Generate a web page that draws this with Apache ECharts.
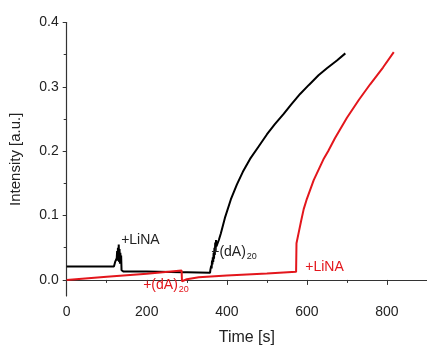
<!DOCTYPE html>
<html>
<head>
<meta charset="utf-8">
<script src="https://cdn.jsdelivr.net/npm/echarts@6/dist/echarts.min.js"></script>
<style>
  html, body { margin: 0; padding: 0; background: #fff; }
  #chart { width: 427px; height: 347px; }
</style>
</head>
<body>
<div id="chart"></div>
<script>
// Black trace: control (time [s], intensity)
const blackTime = [0, 118, 120, 121, 122, 123, 124, 125, 126, 127, 128, 129, 130, 131, 132, 133, 134, 135, 136, 137, 138, 142, 150, 200, 288, 300, 358,
  359, 360, 361, 362, 363, 364, 365, 366, 367, 368, 369, 370, 371, 372, 373, 374, 376, 380,
  385, 396, 410, 425, 440, 458, 479, 500, 520, 542, 560, 583, 605, 629, 650, 675, 696];
const blackIntensity = [0.021, 0.021, 0.022, 0.028, 0.025, 0.03, 0.026, 0.034, 0.045, 0.03, 0.05, 0.033, 0.055, 0.028, 0.048, 0.025, 0.042, 0.03, 0.038, 0.015, 0.014, 0.013, 0.013, 0.013, 0.012, 0.012, 0.011,
  0.016, 0.013, 0.022, 0.018, 0.03, 0.024, 0.035, 0.028, 0.042, 0.033, 0.05, 0.04, 0.058, 0.045, 0.062, 0.052, 0.055, 0.062,
  0.072, 0.098, 0.125, 0.148, 0.168, 0.188, 0.207, 0.226, 0.242, 0.258, 0.272, 0.289, 0.303, 0.318, 0.329, 0.341, 0.352];

// Red trace
const redTime = [0, 100, 200, 287, 288, 300, 330, 400, 500, 573, 574, 580, 585, 592, 600, 617, 641, 653, 670, 700, 730, 758, 790, 817];
const redIntensity = [0.0, 0.005, 0.0095, 0.0145, -0.002, 0.001, 0.004, 0.007, 0.010, 0.0125, 0.057, 0.075, 0.09, 0.11, 0.126, 0.155, 0.187, 0.2, 0.22, 0.252, 0.28, 0.304, 0.33, 0.354];

const xMajor = [0, 200, 400, 600, 800];
const xMinor = [100, 300, 500, 700];
const yMajor = [0, 0.1, 0.2, 0.3, 0.4];
const yMinor = [0.05, 0.15, 0.25, 0.35];

const RED = '#e3161c';
const FONT = 'Liberation Sans, Arial, sans-serif';
const INK = '#222';

const chart = echarts.init(document.getElementById('chart'));

const subRich = {
  a: { fontSize: 14, fontFamily: FONT },
  b: { fontSize: 9, fontFamily: FONT, padding: [9, 0, 0, 1] }
};

const axisLine = { show: true, lineStyle: { color: '#333', width: 1.2 } };

const option = {
  animation: false,
  grid: { left: 66.7, right: 0, top: 22.5, bottom: 51, outerBoundsMode: 'none', containLabel: false },
  xAxis: [
    {
      type: 'value', min: 0, max: 900,
      name: 'Time [s]', nameLocation: 'middle', nameGap: 34,
      nameTextStyle: { fontSize: 16, color: INK, fontFamily: FONT },
      axisLine: axisLine,
      splitLine: { show: false },
      axisTick: { show: true, length: 5, customValues: xMajor, lineStyle: { color: '#333' } },
      axisLabel: { customValues: xMajor, fontSize: 14, color: INK, fontFamily: FONT, margin: 9 }
    },
    {
      type: 'value', min: 0, max: 900, position: 'bottom',
      axisLine: { show: false }, splitLine: { show: false }, axisLabel: { show: false },
      axisTick: { show: true, length: 3, customValues: xMinor, lineStyle: { color: '#333' } }
    }
  ],
  yAxis: [
    {
      type: 'value', min: -0.025, max: 0.4,
      name: 'Intensity [a.u.]', nameLocation: 'middle', nameGap: 43,
      nameTextStyle: { fontSize: 15, color: INK, fontFamily: FONT },
      axisLine: axisLine,
      splitLine: { show: false },
      axisTick: { show: true, length: 4, customValues: yMajor, lineStyle: { color: '#333' } },
      axisLabel: {
        customValues: yMajor, fontSize: 14, color: INK, fontFamily: FONT, margin: 8,
        formatter: v => v.toFixed(1)
      }
    },
    {
      type: 'value', min: -0.025, max: 0.4, position: 'left',
      axisLine: { show: false }, splitLine: { show: false }, axisLabel: { show: false },
      axisTick: { show: true, length: 3, customValues: yMinor, lineStyle: { color: '#333' } }
    }
  ],
  series: [
    {
      name: 'control', type: 'line', showSymbol: false,
      data: blackTime.map((t, i) => [t, blackIntensity[i]]),
      lineStyle: { color: '#000', width: 2 },
      itemStyle: { color: '#000' },
      markPoint: {
        symbol: 'circle', symbolSize: 0, silent: true,
        label: { position: 'right', distance: 0, color: INK, fontSize: 14, fontFamily: FONT },
        data: [
          { coord: [136, 0.062], label: { formatter: '+LiNA' } },
          { coord: [361, 0.043], label: { formatter: '{a|+(dA)}{b|20}', rich: subRich } }
        ]
      }
    },
    {
      name: 'sample', type: 'line', showSymbol: false,
      data: redTime.map((t, i) => [t, redIntensity[i]]),
      lineStyle: { color: RED, width: 2 },
      itemStyle: { color: RED },
      markPoint: {
        symbol: 'circle', symbolSize: 0, silent: true,
        label: { position: 'right', distance: 0, color: RED, fontSize: 14, fontFamily: FONT },
        data: [
          { coord: [191, -0.008], label: { formatter: '{a|+(dA)}{b|20}', rich: subRich } },
          { coord: [596, 0.020], label: { formatter: '+LiNA' } }
        ]
      }
    }
  ]
};

chart.setOption(option);
</script>
</body>
</html>
